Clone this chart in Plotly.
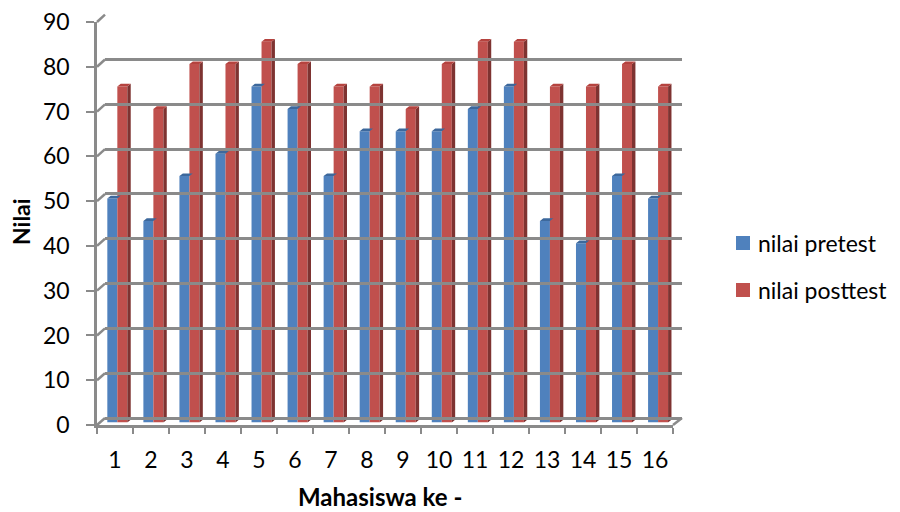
import plotly.graph_objects as go

categories = [str(i) for i in range(1, 17)]
pretest = [50, 45, 55, 60, 75, 70, 55, 65, 65, 65, 70, 75, 45, 40, 55, 50]
posttest = [75, 70, 80, 80, 85, 80, 75, 75, 70, 80, 85, 85, 75, 75, 80, 75]
y_ticks = list(range(0, 100, 10))
series_names = ["nilai pretest", "nilai posttest"]
series_colors = ["#4F81BD", "#C0504D"]

W, H = 900, 512
FONT = "Lato, 'Liberation Sans', sans-serif"
GRID = "#8a8a8a"

def px(x):
    return x / W

def py(y):
    return 1 - y / H

xs = list(range(1, 17))
bw = 10 / 36.05          # bar width in category units
ddx = 3.4 / 36.05        # depth offset x (category units)
ddy = 2.7 / 4.48         # depth offset y (value units)

fig = go.Figure()

# dummy trace so the back-wall grid axes are drawn
fig.add_trace(go.Scatter(x=[1], y=[None], xaxis="x2", yaxis="y2", mode="markers",
                         showlegend=False, hoverinfo="skip"))

def faces(vals, left_off):
    sx, sy, tx, ty = [], [], [], []
    for x, v in zip(xs, vals):
        l = x + left_off
        r = l + bw
        sx += [r, r + ddx, r + ddx, r, r, None]
        sy += [0, ddy, v + ddy, v, 0, None]
        tx += [l, l + ddx, r + ddx, r, l, None]
        ty += [v, v + ddy, v + ddy, v, v, None]
    return sx, sy, tx, ty

# pretest (blue)
fig.add_trace(go.Bar(x=xs, y=pretest, name=series_names[0], width=bw, offset=-bw,
                     marker=dict(color=series_colors[0], line=dict(width=0)),
                     showlegend=False, xaxis="x", yaxis="y"))
sx, sy, tx, ty = faces(pretest, -bw)
fig.add_trace(go.Scatter(x=tx, y=ty, fill="toself", fillcolor="#3D689C", mode="lines",
                         line=dict(width=0), showlegend=False, hoverinfo="skip"))
# posttest (red)
fig.add_trace(go.Bar(x=xs, y=posttest, name=series_names[1], width=bw, offset=0,
                     marker=dict(color=series_colors[1], line=dict(width=0)),
                     showlegend=False, xaxis="x", yaxis="y"))
sx, sy, tx, ty = faces(posttest, 0)
fig.add_trace(go.Scatter(x=sx, y=sy, fill="toself", fillcolor="#7E3331", mode="lines",
                         line=dict(width=0), showlegend=False, hoverinfo="skip"))
fig.add_trace(go.Scatter(x=tx, y=ty, fill="toself", fillcolor="#B5433F", mode="lines",
                         line=dict(width=0), showlegend=False, hoverinfo="skip"))

# front axis dummy trace (categories)
fig.add_trace(go.Scatter(x=categories, y=[None] * len(categories), xaxis="x3", yaxis="y3",
                         mode="markers", showlegend=False, hoverinfo="skip"))

# back wall / front geometry (px)
back_left, back_right, back_0, back_90 = 105, 682, 418, 14.7
front_left, front_right, front_0, front_90 = 97, 673, 425, 22

fig.update_layout(
    width=W, height=H,
    margin=dict(l=0, r=0, t=0, b=0, autoexpand=False),
    paper_bgcolor="white", plot_bgcolor="rgba(0,0,0,0)",
    barmode="overlay",
    font=dict(family=FONT, size=23, color="#000000"),
    showlegend=False,
    # bar plane
    xaxis=dict(domain=[px(99.3), px(676.1)], range=[0.5, 16.5], visible=False,
               automargin=False),
    yaxis=dict(domain=[py(422.5), py(19.3)], range=[0, 90], visible=False,
               automargin=False),
    # back wall grid
    xaxis2=dict(domain=[px(back_left), px(back_right)], range=[0.5, 16.5],
                showgrid=False, zeroline=False, showline=False, showticklabels=False,
                ticks="", anchor="y2", automargin=False),
    yaxis2=dict(domain=[py(back_0), py(back_90)], range=[0, 90], anchor="x2",
                tickvals=y_ticks, showgrid=True, gridcolor=GRID, gridwidth=2.5,
                zeroline=True, zerolinecolor=GRID, zerolinewidth=2.5,
                showticklabels=False, ticks="", showline=False, automargin=False),
    # front axes
    xaxis3=dict(domain=[px(front_left), px(front_right)], type="category",
                categoryarray=categories, range=[-0.5, 15.5], anchor="y3",
                tickson="boundaries", ticks="outside", ticklen=6, tickwidth=2,
                tickcolor=GRID, showline=True, linecolor=GRID, linewidth=2.5,
                showgrid=False, zeroline=False, ticklabelstandoff=13, tickangle=0,
                automargin=False,
                tickfont=dict(family=FONT, size=23, color="#000")),
    yaxis3=dict(domain=[py(front_0), py(front_90)], range=[0, 90], anchor="x3",
                tickvals=y_ticks, ticks="outside", ticklen=8, tickwidth=2,
                tickcolor=GRID, showline=True, linecolor=GRID, linewidth=2.5,
                showgrid=False, zeroline=False, ticklabelstandoff=12,
                automargin=False,
                tickfont=dict(family=FONT, size=23, color="#000")),
)

# diagonal connectors from front axis to back wall
shapes = []
for t in y_ticks:
    yf = front_0 + (front_90 - front_0) * t / 90
    yb = back_0 + (back_90 - back_0) * t / 90
    shapes.append(dict(type="line", xref="paper", yref="paper",
                       x0=px(front_left), y0=py(yf), x1=px(back_left), y1=py(yb),
                       line=dict(color=GRID, width=2.5), layer="below"))
shapes.append(dict(type="line", xref="paper", yref="paper",
                   x0=px(front_right), y0=py(front_0), x1=px(back_right), y1=py(back_0),
                   line=dict(color=GRID, width=2.5), layer="below"))

# manual legend
legend_y = [243, 290]
for name, col, ly in zip(series_names, series_colors, legend_y):
    shapes.append(dict(type="rect", xref="paper", yref="paper",
                       x0=px(736), x1=px(750), y0=py(ly - 7), y1=py(ly + 7),
                       fillcolor=col, line=dict(width=0)))
    fig.add_annotation(text=name, xref="paper", yref="paper", x=px(756), y=py(ly),
                       xanchor="left", yanchor="middle", showarrow=False,
                       font=dict(family=FONT, size=23, color="#000"))
fig.update_layout(shapes=shapes)

fig.add_annotation(text="<b>Nilai</b>", xref="paper", yref="paper", x=px(21), y=py(222),
                   xanchor="center", yanchor="middle",
                   textangle=-90, showarrow=False, font=dict(family=FONT, size=23, color="#000"))
fig.add_annotation(text="<b>Mahasiswa ke -</b>", xref="paper", yref="paper", x=px(380), y=py(496),
                   xanchor="center", yanchor="middle",
                   showarrow=False, font=dict(family=FONT, size=24, color="#000"))

fig.write_html("out.html", config={"displayModeBar": False},
               post_script="document.body.style.margin='0';")
